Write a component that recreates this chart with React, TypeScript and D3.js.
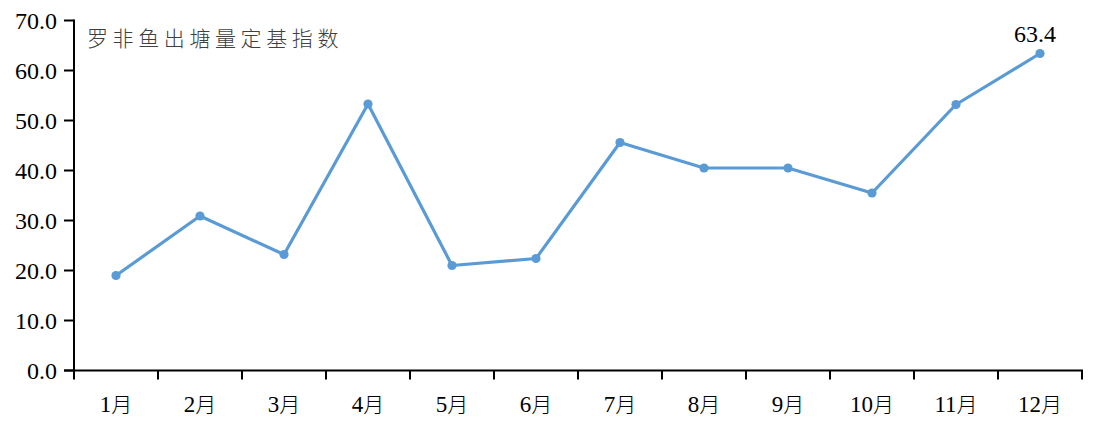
import React from "react";
import * as d3 from "d3";

const months = ["1月", "2月", "3月", "4月", "5月", "6月", "7月", "8月", "9月", "10月", "11月", "12月"];
const values = [19.0, 30.9, 23.2, 53.3, 21.0, 22.4, 45.6, 40.5, 40.5, 35.5, 53.2, 63.4];
const yTicks = [0, 10, 20, 30, 40, 50, 60, 70];
const title = "罗非鱼出塘量定基指数";
const labelIndex = 11;

export default function App() {
  const W = 1108, H = 436;
  const left = 74, right = 1082, top = 20.5, bottom = 370.5;
  const x = d3.scaleBand<string>().domain(months).range([left, right]);
  const y = d3.scaleLinear().domain([0, 70]).range([bottom, top]);
  const line = d3.line<number>()
    .x((_, i) => (x(months[i]) as number) + x.bandwidth() / 2)
    .y((d) => y(d));
  const serif = "'Liberation Serif', 'Times New Roman', serif";
  const cjk = "'Noto Sans CJK SC', sans-serif";
  const color = "#5b9bd5";
  const bounds = months.map((m) => x(m) as number).concat([right]);
  return (
    <svg width={W} height={H} style={{ position: "absolute", left: 0, top: 0, background: "#fff" }}>
      <text x={87} y={46} fontFamily={cjk} fontSize={21} fontWeight={300} fill="#404040" letterSpacing={4.6}>{title}</text>
      {/* y axis */}
      <line x1={left} x2={left} y1={top - 1} y2={bottom} stroke="#000" strokeWidth={2} />
      {yTicks.map((t) => (
        <g key={t}>
          <line x1={left - 10} x2={left} y1={y(t)} y2={y(t)} stroke="#000" strokeWidth={2} />
          <text x={57} y={y(t)} dy="0.34em" textAnchor="end" fontFamily={serif} fontSize={24} fill="#000">{t.toFixed(1)}</text>
        </g>
      ))}
      {/* x axis */}
      <line x1={left - 10} x2={right + 1} y1={bottom} y2={bottom} stroke="#000" strokeWidth={2} />
      {bounds.map((b, i) => (
        <line key={i} x1={b} x2={b} y1={bottom} y2={bottom + 9} stroke="#000" strokeWidth={2} />
      ))}
      {months.map((m) => {
        const cx = (x(m) as number) + x.bandwidth() / 2;
        const num = m.replace("月", "");
        return (
          <text key={m} x={cx} y={412} textAnchor="middle" fontSize={23} fill="#000">
            <tspan fontFamily={serif}>{num}</tspan>
            <tspan fontFamily={cjk} fontSize={21} fontWeight={300}>月</tspan>
          </text>
        );
      })}
      <path d={line(values) || ""} fill="none" stroke={color} strokeWidth={3.2} strokeLinejoin="round" />
      {values.map((v, i) => (
        <circle key={i} cx={(x(months[i]) as number) + x.bandwidth() / 2} cy={y(v)} r={4.6} fill={color} />
      ))}
      <text
        x={(x(months[labelIndex]) as number) + x.bandwidth() / 2 - 5}
        y={42}
        textAnchor="middle"
        fontFamily={serif}
        fontSize={24}
        fill="#000"
      >
        {values[labelIndex].toFixed(1)}
      </text>
    </svg>
  );
}
